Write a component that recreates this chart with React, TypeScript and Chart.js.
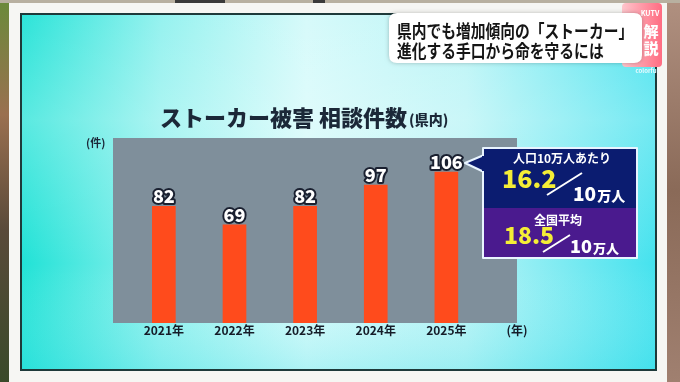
import React, { useEffect, useRef } from "react";
import { Chart, registerables } from "chart.js";

Chart.register(...registerables);

const years = ["2021年", "2022年", "2023年", "2024年", "2025年"];
const counts = [82, 69, 82, 97, 106];
const xUnitLabel = "(年)";
const yUnitLabel = "(件)";
const titleMain = "ストーカー被害 相談件数";
const titleSub = "(県内)";
const captionLines = ["県内でも増加傾向の「ストーカー」", "進化する手口から命を守るには"];
const perCapitaLabel = "人口10万人あたり";
const perCapitaValue = "16.2";
const nationalLabel = "全国平均";
const nationalValue = "18.5";
const perUnitNum = "10";
const perUnitText = "万人";
const yMax = 130;

const JP = '"Noto Sans CJK JP", "Noto Sans", sans-serif';

function rr(ctx: CanvasRenderingContext2D, x: number, y: number, w: number, h: number, r: number) {
  ctx.beginPath();
  ctx.moveTo(x + r, y);
  ctx.lineTo(x + w - r, y);
  ctx.quadraticCurveTo(x + w, y, x + w, y + r);
  ctx.lineTo(x + w, y + h - r);
  ctx.quadraticCurveTo(x + w, y + h, x + w - r, y + h);
  ctx.lineTo(x + r, y + h);
  ctx.quadraticCurveTo(x, y + h, x, y + h - r);
  ctx.lineTo(x, y + r);
  ctx.quadraticCurveTo(x, y, x + r, y);
  ctx.closePath();
}

const backgroundPlugin = {
  id: "tvBackground",
  beforeDraw(chart: any) {
    const ctx: CanvasRenderingContext2D = chart.ctx;
    const W = chart.width;
    const H = chart.height;
    ctx.save();
    ctx.fillStyle = "#f4f4f2";
    ctx.fillRect(0, 0, W, H);
    const lg = ctx.createLinearGradient(0, 0, 0, H);
    lg.addColorStop(0, "#6a8a3a");
    lg.addColorStop(0.3, "#9a7050");
    lg.addColorStop(0.6, "#5a4a3a");
    lg.addColorStop(1, "#3a4a2a");
    ctx.fillStyle = lg;
    ctx.fillRect(0, 0, 9, H);
    const rg = ctx.createLinearGradient(0, 0, 0, H);
    rg.addColorStop(0, "#b09080");
    rg.addColorStop(0.5, "#8a6a58");
    rg.addColorStop(1, "#a08070");
    ctx.fillStyle = rg;
    ctx.fillRect(667, 0, W - 667, H);
    ctx.fillStyle = "#b8b0a0";
    ctx.fillRect(0, 0, W, 3);
    ctx.fillStyle = "#3a3a3a";
    ctx.fillRect(175, 0, 50, 3);
    ctx.fillRect(313, 0, 12, 3);
    ctx.fillStyle = "#f6f6f3";
    ctx.fillRect(9, 3, 658, H - 3);
    const px = 20, py = 13, pw = 637, ph = 358;
    ctx.fillStyle = "#1e3a3a";
    ctx.fillRect(px, py, pw, ph);
    const g = ctx.createLinearGradient(px, 0, px + pw, 0);
    g.addColorStop(0, "#1fe2d6");
    g.addColorStop(0.22, "#8ff1ee");
    g.addColorStop(0.45, "#d4fafa");
    g.addColorStop(0.7, "#b8f4f6");
    g.addColorStop(1, "#44e2ee");
    ctx.fillStyle = g;
    ctx.fillRect(px + 2, py + 2, pw - 4, ph - 4);
    const vg = ctx.createLinearGradient(0, py, 0, py + ph);
    vg.addColorStop(0, "rgba(255,255,255,0.05)");
    vg.addColorStop(0.3, "rgba(255,255,255,0.25)");
    vg.addColorStop(0.7, "rgba(255,255,255,0.0)");
    vg.addColorStop(1, "rgba(60,220,230,0.25)");
    ctx.fillStyle = vg;
    ctx.fillRect(px + 2, py + 2, pw - 4, ph - 4);

    const a = chart.chartArea;
    ctx.fillStyle = "#7f8f9b";
    ctx.fillRect(a.left, a.top, a.right - a.left, a.bottom - a.top);

    ctx.fillStyle = "#1b2838";
    ctx.textBaseline = "alphabetic";
    ctx.textAlign = "left";
    ctx.font = `900 22px ${JP}`;
    ctx.fillText(titleMain, 160, 126);
    const tw = ctx.measureText(titleMain).width;
    ctx.font = `900 14px ${JP}`;
    ctx.fillText(titleSub, 160 + tw + 2, 125);

    ctx.font = `bold 11px ${JP}`;
    ctx.fillStyle = "#1b2838";
    ctx.fillText(yUnitLabel, 86, 147);
    ctx.restore();
  },
};

const overlayPlugin = {
  id: "tvOverlay",
  afterDraw(chart: any) {
    const ctx: CanvasRenderingContext2D = chart.ctx;
    ctx.save();
    const meta = chart.getDatasetMeta(0);
    ctx.font = `900 18px ${JP}`;
    ctx.textAlign = "center";
    ctx.textBaseline = "alphabetic";
    ctx.lineJoin = "round";
    meta.data.forEach((el: any, i: number) => {
      const t = String(counts[i]);
      ctx.lineWidth = 4;
      ctx.strokeStyle = "#1a2030";
      ctx.strokeText(t, el.x, el.y - 3);
      ctx.fillStyle = "#ffffff";
      ctx.fillText(t, el.x, el.y - 3);
    });

    const bx = 483, by = 148, bw = 154, bh = 110, mid = 208;
    ctx.fillStyle = "#0b1c70";
    ctx.strokeStyle = "#e8f4ff";
    ctx.lineWidth = 2;
    ctx.beginPath();
    ctx.moveTo(bx + 1, 155);
    ctx.lineTo(465, 163);
    ctx.lineTo(bx + 1, 172);
    ctx.closePath();
    ctx.fill();
    ctx.stroke();
    ctx.fillRect(bx, by, bw, mid - by);
    ctx.fillStyle = "#4a1a8e";
    ctx.fillRect(bx, mid, bw, by + bh - mid);
    ctx.strokeRect(bx, by, bw, bh);
    ctx.fillStyle = "#0b1c70";
    ctx.fillRect(bx - 1, 156, 4, 15);

    ctx.textAlign = "center";
    ctx.fillStyle = "#ffffff";
    ctx.font = `bold 12px ${JP}`;
    ctx.fillText(perCapitaLabel, 562, 163);
    ctx.fillText(nationalLabel, 558, 225);

    ctx.textAlign = "left";
    ctx.fillStyle = "#f4ee36";
    ctx.font = `900 25px ${JP}`;
    ctx.fillText(perCapitaValue, 502, 188);
    ctx.font = `900 23px ${JP}`;
    ctx.fillText(nationalValue, 504, 244);

    ctx.strokeStyle = "#ffffff";
    ctx.lineWidth = 2;
    ctx.beginPath();
    ctx.moveTo(547, 195);
    ctx.lineTo(582, 173);
    ctx.moveTo(543, 252);
    ctx.lineTo(570, 235);
    ctx.stroke();

    ctx.fillStyle = "#ffffff";
    ctx.font = `900 19px ${JP}`;
    ctx.fillText(perUnitNum, 573, 201);
    let w = ctx.measureText(perUnitNum).width;
    ctx.font = `900 14px ${JP}`;
    ctx.fillText(perUnitText, 573 + w + 1, 201);
    ctx.font = `900 18px ${JP}`;
    ctx.fillText(perUnitNum, 570, 253);
    w = ctx.measureText(perUnitNum).width;
    ctx.font = `900 13px ${JP}`;
    ctx.fillText(perUnitText, 570 + w + 1, 253);

    const pg = ctx.createLinearGradient(622, 0, 662, 0);
    pg.addColorStop(0, "#ffc6cc");
    pg.addColorStop(1, "#ff6c82");
    ctx.fillStyle = pg;
    rr(ctx, 622, 3, 40, 64, 4);
    ctx.fill();
    ctx.fillStyle = "#ffffff";
    ctx.textAlign = "center";
    ctx.font = `bold 7px ${JP}`;
    ctx.fillText("KUTV", 650, 16);
    ctx.font = `900 15px ${JP}`;
    ctx.fillText("解", 651, 37);
    ctx.fillText("説", 651, 54);
    ctx.font = `bold 6px ${JP}`;
    ctx.fillStyle = "#e8fbff";
    ctx.fillText("colorful", 647, 73);

    ctx.shadowColor = "rgba(0,0,0,0.25)";
    ctx.shadowBlur = 4;
    ctx.fillStyle = "#ffffff";
    rr(ctx, 389, 13, 253, 50, 8);
    ctx.fill();
    ctx.shadowBlur = 0;
    ctx.shadowColor = "transparent";
    ctx.fillStyle = "#151515";
    ctx.textAlign = "left";
    ctx.font = `bold 18px ${JP}`;
    captionLines.forEach((line, i) => {
      ctx.save();
      ctx.translate(397, i === 0 ? 38 : 58);
      ctx.scale(0.82, 1);
      ctx.fillText(line, 0, 0);
      ctx.restore();
    });
    ctx.restore();
  },
};

export default function App() {
  const ref = useRef<HTMLCanvasElement | null>(null);
  useEffect(() => {
    document.body.style.margin = "0";
    if (!ref.current) return;
    const tickLabels = [...years, xUnitLabel];
    const chart = new Chart(ref.current, {
      type: "bar",
      data: {
        datasets: [
          {
            data: counts.map((v, i) => ({ x: i, y: v })),
            backgroundColor: "#ff4b1c",
            borderWidth: 0,
            barThickness: 23,
          },
        ],
      },
      options: {
        responsive: false,
        animation: false,
        devicePixelRatio: 1,
        layout: { padding: { left: 113, right: 163, top: 138, bottom: 35 } },
        plugins: { legend: { display: false }, tooltip: { enabled: false } },
        scales: {
          x: {
            type: "linear",
            offset: false,
            min: -0.72,
            max: 5,
            grid: { display: false, drawTicks: false, offset: false },
            border: { display: false },
            afterFit: (s: any) => {
              s.height = 24;
            },
            ticks: {
              stepSize: 1,
              includeBounds: false,
              autoSkip: false,
              maxRotation: 0,
              padding: 0,
              color: "#151c28",
              font: { family: JP, size: 12, weight: "bold" },
              callback: (v: any) => {
                const n = Number(v);
                return Number.isInteger(n) && n >= 0 && n < tickLabels.length ? tickLabels[n] : "";
              },
            },
          },
          y: {
            display: false,
            min: 0,
            max: yMax,
          },
        },
      },
      plugins: [backgroundPlugin, overlayPlugin],
    } as any);
    return () => chart.destroy();
  }, []);
  return (
    <div style={{ position: "fixed", left: 0, top: 0, width: 680, height: 382 }}>
      <canvas ref={ref} width={680} height={382} style={{ width: 680, height: 382, display: "block" }} />
    </div>
  );
}
